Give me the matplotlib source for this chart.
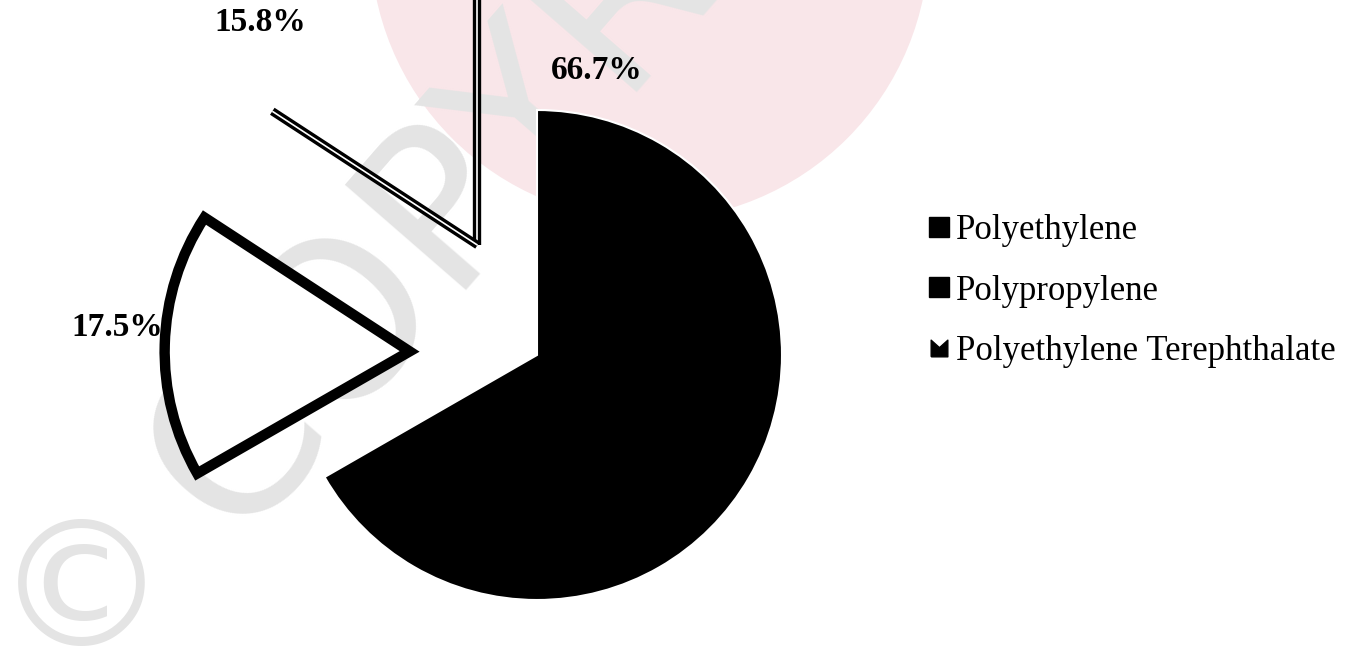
# Pie chart of plastic types (scanned figure recreation)
import matplotlib
matplotlib.use("Agg")
import matplotlib.pyplot as plt
from matplotlib.lines import Line2D
from matplotlib.patches import Circle
from matplotlib.path import Path
import numpy as np

# Data
plastics = ["Polyethylene", "Polypropylene", "Polyethylene Terephthalate"]
shares = [66.7, 17.5, 15.8]
explode = [0, 0.52, 0.51]

# Figure sized to 1369 x 672 px
fig = plt.figure(figsize=(13.69, 6.72), dpi=100)
ax = fig.add_axes([0, 0, 1, 1])

# Faint watermark pieces behind the chart
ax.add_patch(Circle((0.46, 1.69), 1.14, facecolor="#f9e6e9", edgecolor="none", zorder=0))
ax.text(-1.42, -0.6, "COPYRIGHT", fontsize=158, color="#e4e4e4", rotation=49,
        rotation_mode="anchor", ha="left", va="center", family="DejaVu Sans", zorder=0.5)
ax.text(-1.86, -0.99, "\u00a9", fontsize=126, color="#e4e4e4", ha="center", va="center",
        family="DejaVu Sans", zorder=0.5)

# Pie
wedges, _ = ax.pie(shares, explode=explode, startangle=90, counterclock=False,
                   radius=1, center=(0, 0))

# Polyethylene - solid black
wedges[0].set_facecolor("black")
wedges[0].set_edgecolor("white")
wedges[0].set_linewidth(1.5)
wedges[0].set_zorder(2)

# Polypropylene - white with a heavy outline
wedges[1].set_facecolor("white")
wedges[1].set_edgecolor("black")
wedges[1].set_linewidth(7.5)
wedges[1].set_zorder(2)

# Polyethylene Terephthalate - only the two straight edges show in the scan
pet = wedges[2]
pet.set_facecolor("none")
pet.set_edgecolor("none")
cx, cy = pet.center
for ang in (pet.theta1, pet.theta2):
    ex = cx + pet.r * np.cos(np.radians(ang))
    ey = cy + pet.r * np.sin(np.radians(ang))
    ax.plot([cx, ex], [cy, ey], color="black", lw=6, solid_capstyle="butt", zorder=3)
    ax.plot([cx, ex], [cy, ey], color="white", lw=1.2, solid_capstyle="butt", zorder=3)

# Percentage labels
label_pos = [(0.245, 1.16), (-1.714, 0.114), (-1.131, 1.359)]
for val, (lx, ly) in zip(shares, label_pos):
    ax.text(lx, ly, f"{val}%", fontsize=24, fontweight="bold", family="Liberation Serif",
            ha="center", va="center", zorder=4)

# Axis range so pie centre/radius match the picture
ax.set_xlim(-537 / 245, 832 / 245)
ax.set_ylim(-317 / 245, 355 / 245)
ax.set_aspect("equal")
ax.axis("off")

# Legend (all markers black in the scan)
notch = Path([(-1, -1), (1, -1), (1, 1), (0, 0.1), (-1, 1), (-1, -1)])
markers = ["s", "s", notch]
sizes = [14, 14, 12]
handles = [Line2D([], [], marker=m, color="black", linestyle="none", markersize=s)
           for m, s in zip(markers, sizes)]
fig.legend(handles, plastics, loc="center left", bbox_to_anchor=(911 / 1369, 1 - 291 / 672),
           frameon=False, prop={"family": "Liberation Serif", "size": 25},
           handletextpad=0.1, handlelength=0.8, labelspacing=0.8, borderaxespad=0)

fig.savefig("out.png", dpi=100)
